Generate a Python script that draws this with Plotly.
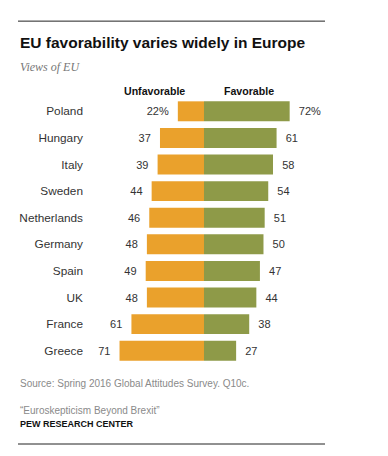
import plotly.graph_objects as go

countries = ["Poland", "Hungary", "Italy", "Sweden", "Netherlands", "Germany", "Spain", "UK", "France", "Greece"]
unfavorable = [22, 37, 39, 44, 46, 48, 49, 48, 61, 71]
favorable = [72, 61, 58, 54, 51, 50, 47, 44, 38, 27]
unfav_text = ["22%"] + [str(v) for v in unfavorable[1:]]
fav_text = ["72%"] + [str(v) for v in favorable[1:]]

ORANGE = "#EAA12C"
GREEN = "#8E9A48"
TXT = "#333333"
FONT = "Liberation Sans, Arial, sans-serif"

fig = go.Figure()
fig.add_trace(go.Bar(
    y=countries, x=[-v for v in unfavorable], orientation="h",
    marker=dict(color=ORANGE, line=dict(width=0)),
    text=[t + "  " for t in unfav_text], textposition="outside",
    textfont=dict(family=FONT, size=11, color=TXT),
    cliponaxis=False, hoverinfo="skip", name="Unfavorable",
))
fig.add_trace(go.Bar(
    y=countries, x=favorable, orientation="h",
    marker=dict(color=GREEN, line=dict(width=0)),
    text=["  " + t for t in fav_text], textposition="outside",
    textfont=dict(family=FONT, size=11, color=TXT),
    cliponaxis=False, hoverinfo="skip", name="Favorable",
))

fig.update_layout(
    width=388, height=456,
    margin=dict(l=10, r=71, t=90, b=100),
    paper_bgcolor="white", plot_bgcolor="white",
    barmode="relative", bargap=0.25,
    showlegend=False,
    uniformtext=dict(minsize=11, mode="show"),
    xaxis=dict(domain=[0.228, 1], range=[-97.5, 101.7], visible=False, fixedrange=True),
    yaxis=dict(categoryorder="array", categoryarray=countries[::-1], range=[-0.5, 9.5],
               showgrid=False, zeroline=False, showline=False, ticks="",
               ticklabelstandoff=4,
               tickfont=dict(family=FONT, size=11.8, color=TXT)),
    font=dict(family=FONT),
)

def ann(text, x, y, size, color, bold=False, xanchor="left", family=FONT, italic=False):
    t = f"<b>{text}</b>" if bold else text
    if italic:
        t = f"<i>{t}</i>"
    fig.add_annotation(text=t, x=x, y=y, xref="paper", yref="paper", showarrow=False,
                       xanchor=xanchor, yanchor="middle",
                       font=dict(size=size, color=color, family=family))

ann("EU favorability varies widely in Europe", 0, 1.207, 15.5, "#111111", bold=True)
ann("Views of EU", 0, 1.117, 12, "#777777", italic=True, family="Liberation Serif, DejaVu Serif, serif")
ann("Unfavorable", 0.443, 1.026, 10.6, "#111111", bold=True, xanchor="center")
ann("Favorable", 0.752, 1.026, 10.6, "#111111", bold=True, xanchor="center")
ann("Source: Spring 2016 Global Attitudes Survey. Q10c.", 0, -0.075, 10, "#8a8a8a")
ann("\u201cEuroskepticism Beyond Brexit\u201d", 0, -0.173, 10, "#8a8a8a")
ann("PEW RESEARCH CENTER", 0, -0.2256, 9, "#111111", bold=True)

for yy in [1.289, -0.3008]:
    fig.add_shape(type="line", xref="paper", yref="paper", x0=0, x1=1, y0=yy, y1=yy,
                  line=dict(color="#222222", width=1))

fig.write_html("out.html")
